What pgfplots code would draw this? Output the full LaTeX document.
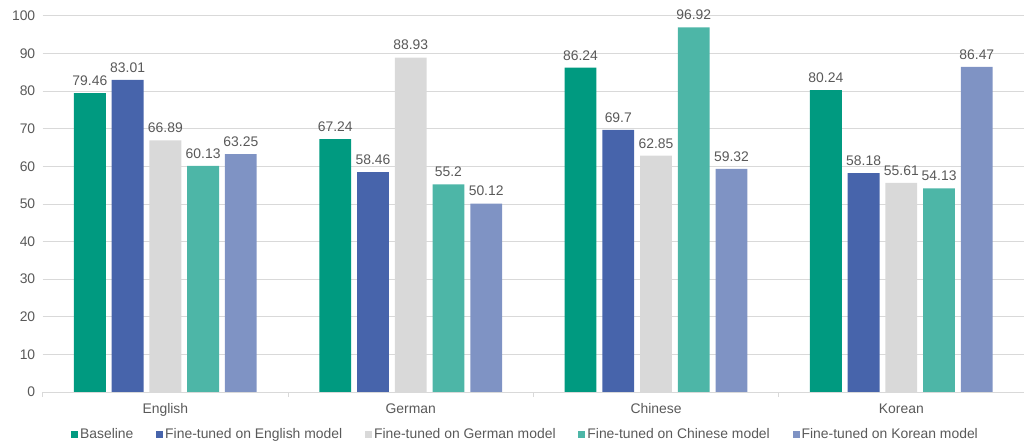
\documentclass[border=0pt]{standalone}
\usepackage{pgfplots}
\pgfplotsset{compat=1.18}
\usepackage{fontspec}
\setmainfont{Liberation Sans}
\definecolor{cBase}{HTML}{009A80}
\definecolor{cEn}{HTML}{4764AB}
\definecolor{cDe}{HTML}{D9D9D9}
\definecolor{cZh}{HTML}{4DB6A7}
\definecolor{cKo}{HTML}{7F93C4}
\definecolor{txt}{HTML}{595959}
\definecolor{gridc}{HTML}{D9D9D9}
\begin{document}
\begin{tikzpicture}
\begin{axis}[
  name=ax,
  scale only axis,
  width=988pt, height=378.7pt,
  ymin=0, ymax=100,
  xmin=-0.5, xmax=3.5,
  ybar=6pt, bar width=32pt,
  ytick={0,10,...,100},
  ymajorgrids, grid style={draw=gridc, line width=0.8pt},
  axis line style={draw=none},
  xtick={0,1,2,3},
  xticklabels={English,German,Chinese,Korean},
  minor xtick={-0.5,0.5,1.5,2.5,3.5},
  xtick pos=bottom, ytick pos=left,
  major tick length=0pt,
  minor tick length=5pt,
  tick align=outside,
  minor tick style={draw=gridc, line width=0.8pt},
  extra description/.code={\draw[draw=gridc, line width=0.8pt] (rel axis cs:0,0) -- (rel axis cs:1,0);},
  ticklabel style={font=\fontsize{14}{16}\selectfont, text=txt},
  /pgf/number format/assume math mode=true,
  yticklabel style={xshift=-4pt},
  xticklabel style={yshift=-8pt},
  nodes near coords,
  every node near coord/.append style={font=\fontsize{14}{16}\selectfont, text=txt, yshift=4pt},
  legend columns=-1,
  legend style={draw=none, fill=none, font=\fontsize{14}{16}\selectfont, text=txt,
    at={(0.492,-0.088)}, anchor=north, inner sep=1pt,
    /tikz/every even column/.append style={column sep=21pt}},
  legend image code/.code={\fill[#1] (0pt,-3.5pt) rectangle (7pt,3.5pt);},
]
\addplot[fill=cBase, draw=none] coordinates {(0,79.46) (1,67.24) (2,86.24) (3,80.24)};
\addplot[fill=cEn, draw=none] coordinates {(0,83.01) (1,58.46) (2,69.7) (3,58.18)};
\addplot[fill=cDe, draw=none] coordinates {(0,66.89) (1,88.93) (2,62.85) (3,55.61)};
\addplot[fill=cZh, draw=none] coordinates {(0,60.13) (1,55.2) (2,96.92) (3,54.13)};
\addplot[fill=cKo, draw=none] coordinates {(0,63.25) (1,50.12) (2,59.32) (3,86.47)};
\legend{Baseline,Fine-tuned on English model,Fine-tuned on German model,Fine-tuned on Chinese model,Fine-tuned on Korean model}
\end{axis}
\pgfresetboundingbox
\path (ax.south west) ++(-43pt,-51.3pt) coordinate (bl);
\path (ax.north east) ++(-7pt,16pt) coordinate (tr);
\path (bl) rectangle (tr);
\end{tikzpicture}
\end{document}
